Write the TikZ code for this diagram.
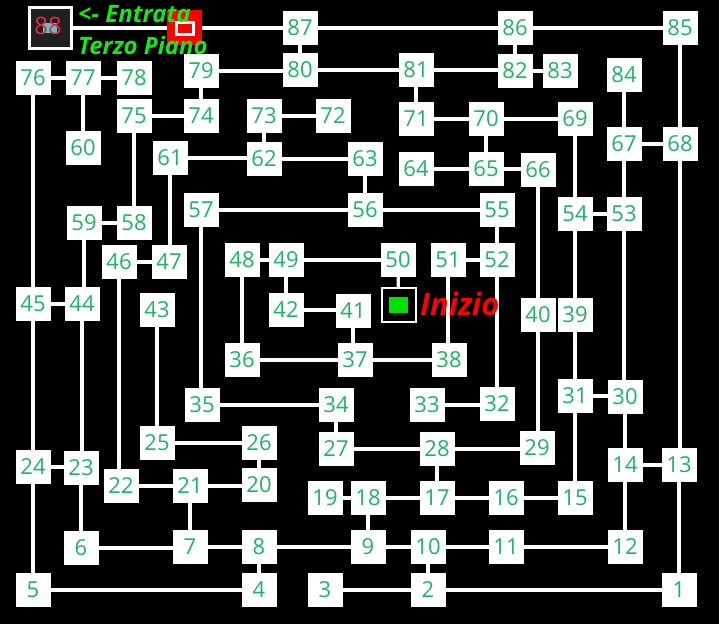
\documentclass[tikz,border=0pt]{standalone}
\usepackage{fontspec}
\setmainfont{Open Sans}
\usetikzlibrary{calc}
\pgfdeclarelayer{background}
\pgfsetlayers{background,main}
\definecolor{numgreen}{RGB}{30,180,100}
\definecolor{lblgreen}{RGB}{20,235,20}
\definecolor{dotgreen}{RGB}{0,225,0}
\definecolor{icondark}{RGB}{32,32,32}
\definecolor{iconred}{RGB}{225,40,70}
\definecolor{iconcyan}{RGB}{90,200,200}
\begin{document}
\begin{tikzpicture}[x=1pt,y=-1pt,
  nb/.style={fill=white, minimum width=35pt, minimum height=34pt, inner sep=0pt,
             text=numgreen, font=\fontsize{22}{22}\selectfont},
  wire/.style={draw=white, line width=3.2pt},
  lbl/.style={anchor=base west, inner sep=0pt, font=\bfseries\itshape}]
\useasboundingbox (0,0) rectangle (719,624);
% boxes
\foreach \n/\x/\y in {
  1/679/590, 2/428/590, 3/325/590, 4/259/590, 5/33/590,
  6/81/548, 7/190/547, 8/259/547, 9/368/547, 10/428/547, 11/506/547, 12/625/547,
  13/679/465, 14/625/465, 15/575/498, 16/506/498, 17/437/498, 18/368/498, 19/325/498,
  20/259/485, 21/190/486, 22/121/486, 23/81/468, 24/33/467, 25/157/443, 26/259/443,
  27/336/449, 28/437/449, 29/537/448, 30/625/397, 31/575/396, 32/497/404, 33/427/405,
  34/336/405, 35/202/405, 36/242/360, 37/355/360, 38/449/360, 39/575/315, 40/538/315,
  41/353/311, 42/286/310, 43/157/310, 44/82/304, 45/33/304, 46/119/262, 47/169/262,
  48/242/260, 49/286/260, 50/398/260, 51/448/260, 52/497/260, 53/624/214, 54/575/214,
  55/497/210, 56/365/210, 57/201/210, 58/134/223, 59/84/223, 60/83/148, 61/170/158,
  62/264/159, 63/365/159, 64/416/169, 65/486/169, 66/538/170, 67/624/144, 68/680/144,
  69/575/119, 70/486/119, 71/416/119, 72/333/116, 73/264/116, 74/201/116, 75/134/116,
  76/33/78, 77/83/78, 78/134/78, 79/201/71, 80/300/70, 81/416/70, 82/515/71,
  83/560/71, 84/624/75, 85/680/28, 86/515/28, 87/300/28}
  \node[nb] (n\n) at (\x,\y) {\n};
% entrance icon
\node[draw=white, line width=3pt, fill=icondark, minimum width=42pt, minimum height=41pt, inner sep=0pt] (n88) at (50.5,28) {};
\node[fill=iconcyan, minimum width=14pt, minimum height=10pt, inner sep=0pt] (n88c) at (50,28) {};
\node[text=iconred, inner sep=0pt, font=\fontsize{24}{24}\selectfont] (n88t) at (48,26) {88};
% red marker
\node[fill=red, minimum size=35pt, inner sep=0pt] (mark) at (184.5,27.5) {};
\node[draw=white, line width=3pt, fill=red, minimum width=17pt, minimum height=12pt, inner sep=0pt] (markin) at (185,28) {};
% start
\node[draw=white, line width=2pt, fill=black, minimum size=34pt, inner sep=0pt] (start) at (398.5,305) {};
\node[fill=dotgreen, minimum width=19pt, minimum height=16pt, inner sep=0pt] (startdot) at (398.5,305) {};
% labels
\node[lbl, text=lblgreen, font=\fontsize{24}{24}\selectfont\bfseries\itshape] (lentr) at (78,22) {<- Entrata};
\node[lbl, text=lblgreen, font=\fontsize{24}{24}\selectfont\bfseries\itshape] (lpiano) at (78,54) {Terzo Piano};
\node[lbl, text=red, font=\fontsize{31}{31}\selectfont\bfseries\itshape] (linizio) at (420,315) {Inizio};
\begin{pgfonlayer}{background}
\fill[black] (0,0) rectangle (719,624);
% horizontal connectors
\foreach \a/\b in {88/87, 87/86, 86/85, 76/77, 77/78, 79/80, 80/81, 81/82, 82/83,
  75/74, 73/72, 71/70, 70/69, 61/62, 62/63, 64/65, 65/66, 67/68, 59/58, 57/56, 56/55,
  54/53, 46/47, 48/49, 49/50, 51/52, 45/44, 42/41, 36/37, 37/38, 35/34, 33/32, 31/30,
  25/26, 27/28, 28/29, 24/23, 14/13, 22/21, 21/20, 19/18, 18/17, 17/16, 16/15,
  6/7, 7/8, 8/9, 9/10, 10/11, 11/12, 5/4, 3/2, 2/1}
  \draw[wire] (n\a) -- (n\b |- n\a);
% vertical connectors
\foreach \a/\b in {87/80, 86/82, 79/74, 77/60, 81/71, 73/62, 63/56, 70/65,
  84/67, 67/53, 53/30, 30/14, 14/12, 85/68, 68/13, 13/1, 69/54, 54/39, 39/31, 31/15,
  66/40, 40/29, 55/52, 52/32, 76/45, 45/24, 24/5, 59/44, 44/23, 23/6, 75/58, 61/47,
  46/22, 43/25, 57/35, 48/36, 49/42, 41/37, 51/38, 34/27, 26/20, 8/4, 21/7, 28/17,
  18/9, 10/2}
  \draw[wire] (n\a) -- (n\a |- n\b);
\draw[wire] (n50) -- (start);
\end{pgfonlayer}
\end{tikzpicture}
\end{document}
